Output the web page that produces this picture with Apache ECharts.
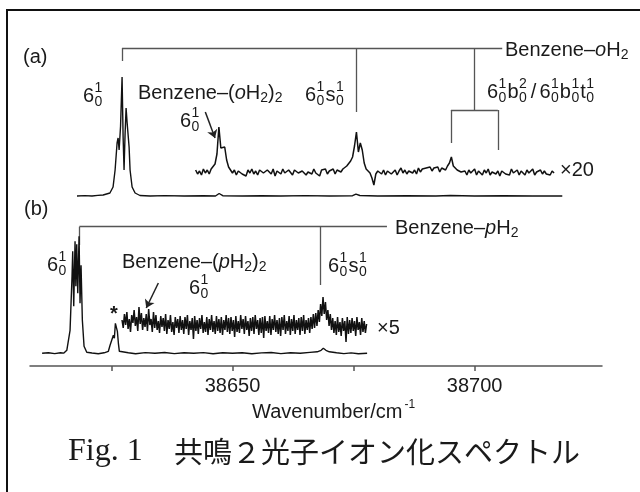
<!DOCTYPE html>
<html><head><meta charset="utf-8">
<script src="https://cdn.jsdelivr.net/npm/echarts@6/dist/echarts.min.js"></script>
<style>html,body{margin:0;padding:0;background:#fff}#c{width:640px;height:492px}</style>
</head><body><div id="c"></div>
<script>
// ---------- axis ----------
const X_MIN = 38608.2, X_MAX = 38726.3;
const tickValues = [38625, 38650, 38675, 38700];
const labelValues = [38650, 38700];
const axisTitle = 'Wavenumber/cm';
const caption = 'Fig. 1';
const captionJa = '共鳴２光子イオン化スペクトル';

// ---------- spectra (intensity in arbitrary units above each trace's baseline) ----------
const aMainOffset = 170;   // (a) benzene-oH2, x1
const a20Offset = 194;     // (a) x20 trace
const bMainOffset = 12.7;  // (b) benzene-pH2, x1
const b5Offset = 43;       // (b) x5 trace

const aMain = [
  [38617.9,0],[38619.5,0.4],[38621,0],[38622.2,0.6],[38623.3,1],[38624.7,3],[38625.35,9],
  [38625.77,26],[38626.18,53],[38626.39,58],[38626.6,46],[38626.9,70],[38627.21,119],
  [38627.42,60],[38627.62,26],[38627.83,62],[38628.04,88],[38628.24,74],[38628.66,49],
  [38628.86,26],[38629.28,9],[38629.9,3],[38630.9,0.5],[38633,0],[38636,0.4],[38640,0],
  [38644,0.3],[38646.5,0],[38647.25,2.5],[38648,0.3],[38652,0],[38656,0.3],[38660,0],
  [38665,0.4],[38670,0],[38674.8,0.3],[38675.5,1.8],[38676.3,0.5],[38680,0],[38686,0.3],
  [38692,0],[38695,0.5],[38700,0],[38706,0.3],[38712,0],[38718.1,0]
];

const a20Start = 38642.4, a20Step = 0.4;
const a20 = [
  2,-2,1,-3,3,-1,2,-2,3,5,
  8,18,45,24,22,25,12,5,3,-1,
  2,-3,1,3,-2,0,-4,2,-1,3,
  -2,1,-3,2,4,-1,-3,2,0,-2,
  3,-4,1,2,-2,3,-1,-3,2,1,
  -3,2,4,-1,-2,1,3,-3,0,2,
  -2,3,-1,1,-4,2,0,3,-2,1,
  -1,3,-2,2,4,0,3,4,6,8,
  11,15,26,40,20,29,22,9,3,1,
  -1,-6,-13,-2,1,3,-2,2,-3,1,
  3,-2,0,2,-3,1,4,-1,2,-2,
  1,3,-1,2,-2,4,0,3,1,4,
  2,5,1,4,2,5,0,4,5,2,
  6,9,15,6,7,2,4,0,-2,1,
  -3,2,-1,-2,3,-3,1,0,-3,2,
  -1,3,-3,0,2,-2,1,-4,1,2,
  -2,0,-3,3,-1,-2,2,-3,1,0,
  -3,2,-1,-2,3,-3,0,-1,2,-2,
  1,-2,0,-3,1,-1
];

const bMain = [
  [38610.7,0],[38612,0.5],[38613.3,-0.3],[38614.5,0.6],[38615.2,0.2],[38615.8,3],[38616.47,23],
  [38616.88,77],[38617.02,102],[38617.23,47],[38617.5,112],[38617.67,67],[38617.85,109],
  [38618.06,60],[38618.33,117],[38618.53,50],[38618.74,88],[38619.01,33],[38619.36,7],
  [38619.92,1],[38621,0.3],[38622.3,-0.4],[38623.5,0.5],[38624.38,2],[38624.73,8],
  [38625.08,10],[38625.41,18],[38625.62,15],[38625.83,30],[38626.03,28],[38626.24,22],
  [38626.45,10],[38626.65,2],[38626.94,0],[38628.5,0.6],[38630,-0.4],[38632,0.7],[38634,0],
  [38636,0.8],[38638,-0.3],[38640,0.6],[38642,0.1],[38644,0.7],[38646,-0.4],[38648,0.5],
  [38650,0],[38652,0.6],[38654,-0.5],[38656,0.4],[38658,0.8],[38660,-0.3],[38662,0.5],
  [38664,0.1],[38666,0.9],[38667.5,1.5],[38668.3,3],[38668.76,5],[38669.3,3],[38670,1.5],
  [38671.5,0.5],[38673,-0.3],[38674.5,0.4],[38676,-0.5],[38677.8,0]
];

const b5Start = 38627.2, b5Step = 0.25;
const b5 = [
  3,-5,9,-2,11,-6,4,-9,8,0,
  13,-3,6,-8,16,-1,10,-7,5,-4,
  9,-8,14,-2,4,-9,11,-5,8,-7,
  2,-10,7,-4,5,-8,9,-11,3,-6,
  8,-9,1,-12,6,-5,4,-10,7,-7,
  3,-11,6,-6,8,-12,2,-7,5,-16,
  7,-8,3,-11,5,-6,8,-10,1,-9,
  6,-12,4,-7,8,-9,2,-11,7,-8,
  4,-10,6,-12,3,-7,8,-9,5,-11,
  6,-8,3,-14,7,-9,2,-10,8,-6,
  4,-11,7,-7,2,-13,5,-8,6,-11,
  8,-6,3,-12,5,-10,6,-15,7,-8,
  2,-10,7,-12,4,-7,8,-9,3,-11,
  5,-13,6,-7,8,-11,2,-8,7,-12,
  4,-8,8,-11,3,-7,5,-12,6,-8,
  8,-11,3,-7,5,-10,6,-6,9,-5,
  10,-3,13,1,19,7,26,9,21,3,
  13,-3,9,-7,5,-10,2,-12,6,-9,
  1,-13,5,-8,2,-19,6,-11,3,-10,
  5,-8,2,-13,6,-7,1,-12,5,-9,
  2,-10,-1
];

// ---------- assignment brackets & arrows (wavenumber, plot height) ----------
const bracketA = [
  [[38627.2,318],[38705.7,318]],
  [[38627.2,318],[38627.2,305]],
  [[38675.6,318],[38675.6,254]],
  [[38700.0,318],[38700.0,256]],
  [[38695.1,256],[38704.8,256]],
  [[38695.1,256],[38695.1,223]],
  [[38704.8,256],[38704.8,216]]
];
const bracketB = [
  [[38618.4,139.3],[38681.9,139.3]],
  [[38618.4,139.3],[38618.4,121]],
  [[38668.1,139.3],[38668.1,81]]
];
const arrows = [
  [[38644.4,254],[38646.4,228]],
  [[38634.7,83],[38632.2,58]]
];

// ---------- build ----------
const INK = '#1a1a1a';
const FONT = '"Liberation Sans", Arial, sans-serif';
const mctx = document.createElement('canvas').getContext('2d');
function fnt(size, italic, bold){ return (italic?'italic ':'') + (bold?'bold ':'') + size + 'px ' + FONT; }
function tw(t, f){ mctx.font = f; return mctx.measureText(t).width; }
function txt(x, y, t, f){
  return {type:'text', x:x, y:y, silent:true, z:10,
    style:{text:t, font:f, fill:INK, align:'left', verticalAlign:'middle', textAlign:'left', textVerticalAlign:'middle'}};
}
function label(x, y, parts, size){
  size = size || 20; const sm = 14; const out = []; let cx = x;
  parts.forEach(p => {
    if (typeof p === 'string') p = ['n', p];
    const k = p[0];
    if (k === 'n' || k === 'i') { const f = fnt(size, k === 'i'); out.push(txt(cx, y, p[1], f)); cx += tw(p[1], f); }
    else if (k === 'sub') { const f = fnt(sm); out.push(txt(cx, y + 5, p[1], f)); cx += tw(p[1], f); }
    else if (k === 'sup') { const f = fnt(12); out.push(txt(cx + 2, y - 7, p[1], f)); cx += tw(p[1], f) + 2; }
    else if (k === 'st') { const f = fnt(sm); out.push(txt(cx + 0.5, y - 7.5, p[1], f)); out.push(txt(cx + 0.5, y + 6.5, p[2], f)); cx += Math.max(tw(p[1], f), tw(p[2], f)) + 1.5; }
    else if (k === 'sp') { cx += p[1]; }
  });
  return out;
}
const six = ['6', ['st','1','0']];

let g = [];
g.push({type:'rect', silent:true, z:0, shape:{x:7, y:10, width:700, height:600}, style:{fill:'none', stroke:'#111', lineWidth:2}});
g = g.concat(
  label(23, 57, ['(a)']),
  label(24, 209, ['(b)']),
  label(83, 96, six),
  label(138, 93, ['Benzene–(', ['i','o'], 'H', ['sub','2'], ')', ['sub','2']]),
  label(180, 121, six),
  label(305, 95, six.concat(['s', ['st','1','0']])),
  label(487, 92, six.concat(['b', ['st','2','0'], ['sp',3], '/', ['sp',3], '6', ['st','1','0'], 'b', ['st','1','0'], 't', ['st','1','0']])),
  label(505, 50, ['Benzene–', ['i','o'], 'H', ['sub','2']]),
  label(560, 170, ['×20']),
  label(47, 265, six),
  label(122, 262, ['Benzene–(', ['i','p'], 'H', ['sub','2'], ')', ['sub','2']]),
  label(189, 288, six),
  label(328, 266, six.concat(['s', ['st','1','0']])),
  label(395, 228, ['Benzene–', ['i','p'], 'H', ['sub','2']]),
  label(377, 328, ['×5']),
  [txt(110, 314, '*', fnt(20, false, true))],
  label(252, 412, [axisTitle, ['sup','-1']]),
  [txt(68, 452, caption, '32px "Liberation Serif", serif')],
  [txt(174, 452, captionJa, '29px "Noto Sans CJK JP", sans-serif')]
);

const trace = (data, w) => ({type:'line', data:data, showSymbol:false, symbol:'none', silent:true, animation:false, z:3,
  lineStyle:{color:'#111', width:w || 1.3}});

const chart = echarts.init(document.getElementById('c'), null, {renderer:'canvas'});
chart.setOption({
  animation:false,
  backgroundColor:'#fff',
  grid:{left:30, right:38, top:10, bottom:126},
  xAxis:{type:'value', min:X_MIN, max:X_MAX,
    axisLine:{show:true, lineStyle:{color:'#555', width:1.5}},
    axisTick:{show:true, customValues:tickValues, length:5, lineStyle:{color:'#555', width:1.5}},
    axisLabel:{customValues:labelValues, fontSize:20, color:INK, fontFamily:FONT, margin:10, formatter:v => String(v)},
    splitLine:{show:false}},
  yAxis:{type:'value', min:0, max:356, show:false},
  series:[
    trace(aMain.map(p => [p[0], p[1] + aMainOffset]), 1.4),
    trace(a20.map((v, i) => [a20Start + i * a20Step, v + a20Offset]), 1.5),
    trace(bMain.map(p => [p[0], p[1] + bMainOffset]), 1.4),
    trace(b5.map((v, i) => [b5Start + i * b5Step, v + b5Offset]), 1.5),
    {type:'lines', coordinateSystem:'cartesian2d', silent:true, animation:false, z:2,
      data:bracketA.concat(bracketB).map(c => ({coords:c})),
      lineStyle:{color:'#555', width:1.3, opacity:1}},
    {type:'lines', coordinateSystem:'cartesian2d', silent:true, animation:false, z:2,
      symbol:['none','arrow'], symbolSize:8,
      data:arrows.map(c => ({coords:c})),
      lineStyle:{color:'#222', width:1.5, opacity:1}}
  ],
  graphic:g
});
</script></body></html>
